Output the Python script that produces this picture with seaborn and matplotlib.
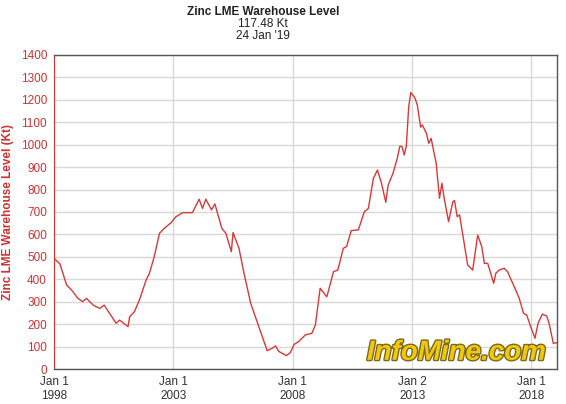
import matplotlib.pyplot as plt
import matplotlib.patheffects as pe
import pandas as pd
import seaborn as sns

# Values (fractional year, Kt)
years = [1998.00, 1998.04, 1998.25, 1998.53, 1998.74, 1999.00, 1999.20, 1999.36, 1999.64,
         1999.92, 2000.10, 2000.60, 2000.75, 2001.10, 2001.17, 2001.37, 2001.58, 2001.86,
         2002.00, 2002.20, 2002.42, 2002.62, 2002.90, 2003.11, 2003.39, 2003.80, 2004.08,
         2004.22, 2004.36, 2004.60, 2004.74, 2005.03, 2005.20, 2005.43, 2005.50, 2005.75,
         2005.96, 2006.24, 2006.58, 2006.93, 2007.14, 2007.28, 2007.42, 2007.74, 2007.90,
         2008.06, 2008.25, 2008.53, 2008.80, 2008.95, 2009.15, 2009.43, 2009.71, 2009.89,
         2010.12, 2010.26, 2010.45, 2010.75, 2011.00, 2011.17, 2011.38, 2011.55, 2011.72,
         2011.90, 2012.00, 2012.20, 2012.38, 2012.49, 2012.58, 2012.67, 2012.76, 2012.86,
         2012.95, 2013.11, 2013.22, 2013.36, 2013.43, 2013.60, 2013.70, 2013.80, 2014.01,
         2014.15, 2014.25, 2014.36, 2014.53, 2014.71, 2014.78, 2014.89, 2014.99, 2015.33,
         2015.54, 2015.75, 2015.92, 2016.03, 2016.17, 2016.42, 2016.51, 2016.65, 2016.86,
         2017.00, 2017.28, 2017.49, 2017.67, 2017.80, 2017.97, 2018.15, 2018.28, 2018.46,
         2018.64, 2018.74, 2018.92, 2019.065]
stock = [495, 490, 468, 374, 352, 315, 300, 315, 285,
         270, 285, 204, 218, 189, 233, 256, 308, 397,
         427, 501, 605, 627, 652, 679, 697, 697, 757,
         716, 757, 709, 736, 627, 605, 523, 608, 538,
         427, 293, 189, 82, 92, 103, 78, 60, 73,
         110, 122, 152, 159, 196, 360, 322, 434, 441,
         538, 546, 617, 620, 701, 716, 850, 887, 828,
         743, 820, 872, 939, 994, 991, 954, 994, 1169,
         1232, 1211, 1177, 1078, 1088, 1051, 1006, 1028, 917,
         761, 828, 753, 657, 746, 751, 679, 687, 464,
         441, 597, 546, 471, 471, 382, 427, 441, 449,
         434, 367, 315, 248, 241, 189, 137, 204, 245,
         236, 204, 114, 117.48]

tick_pos = [1998.0, 2003.0, 2008.0, 2013.003, 2018.0]
tick_labels = ["Jan 1\n1998", "Jan 1\n2003", "Jan 1\n2008", "Jan 2\n2013", "Jan 1\n2018"]

df = pd.DataFrame({"year": years, "stock": stock})

red = "#cc3333"
sns.set_style("white")
plt.rcParams["font.family"] = ["Liberation Sans", "DejaVu Sans"]

fig = plt.figure(figsize=(5.66, 4.04), dpi=100)
ax = fig.add_axes([0.0954, 0.0866, 0.8886, 0.7774])
sns.lineplot(data=df, x="year", y="stock", ax=ax, color="#d9383a", linewidth=1.0)

ax.set_xlim(1998.0, 2019.07)
ax.set_ylim(0, 1400)
ax.set_yticks(range(0, 1401, 100))
ax.set_xticks(tick_pos)
ax.set_xticklabels(tick_labels)
ax.grid(True, color="#d8d8d8", linewidth=1.0)
ax.set_axisbelow(True)
ax.tick_params(axis="y", colors=red, labelsize=8.5, length=3, direction="inout")
ax.tick_params(axis="x", colors="#333333", labelsize=8.5, length=3, direction="inout")
ax.set_xlabel("")
ax.set_ylabel("Zinc LME Warehouse Level (Kt)", color=red, fontweight="bold", fontsize=8.5, labelpad=5)
for side in ["top", "right", "bottom"]:
    ax.spines[side].set_color("#555555")
    ax.spines[side].set_linewidth(1.0)
ax.spines["left"].set_color(red)

fig.text(0.465, 0.970, "Zinc LME Warehouse Level", ha="center", va="center", fontsize=8.5, fontweight="bold", color="#222222")
fig.text(0.465, 0.940, "117.48 Kt", ha="center", va="center", fontsize=8.5, color="#222222")
fig.text(0.465, 0.910, "24 Jan '19", ha="center", va="center", fontsize=8.5, color="#222222")

ax.text(0.978, 0.01, "InfoMine.com", transform=ax.transAxes, ha="right", va="bottom",
        fontsize=20, fontweight="bold", fontstyle="italic", color="#f2c80f",
        path_effects=[pe.withStroke(linewidth=2, foreground="#7a6a20")])

plt.savefig("out.png", dpi=100)
